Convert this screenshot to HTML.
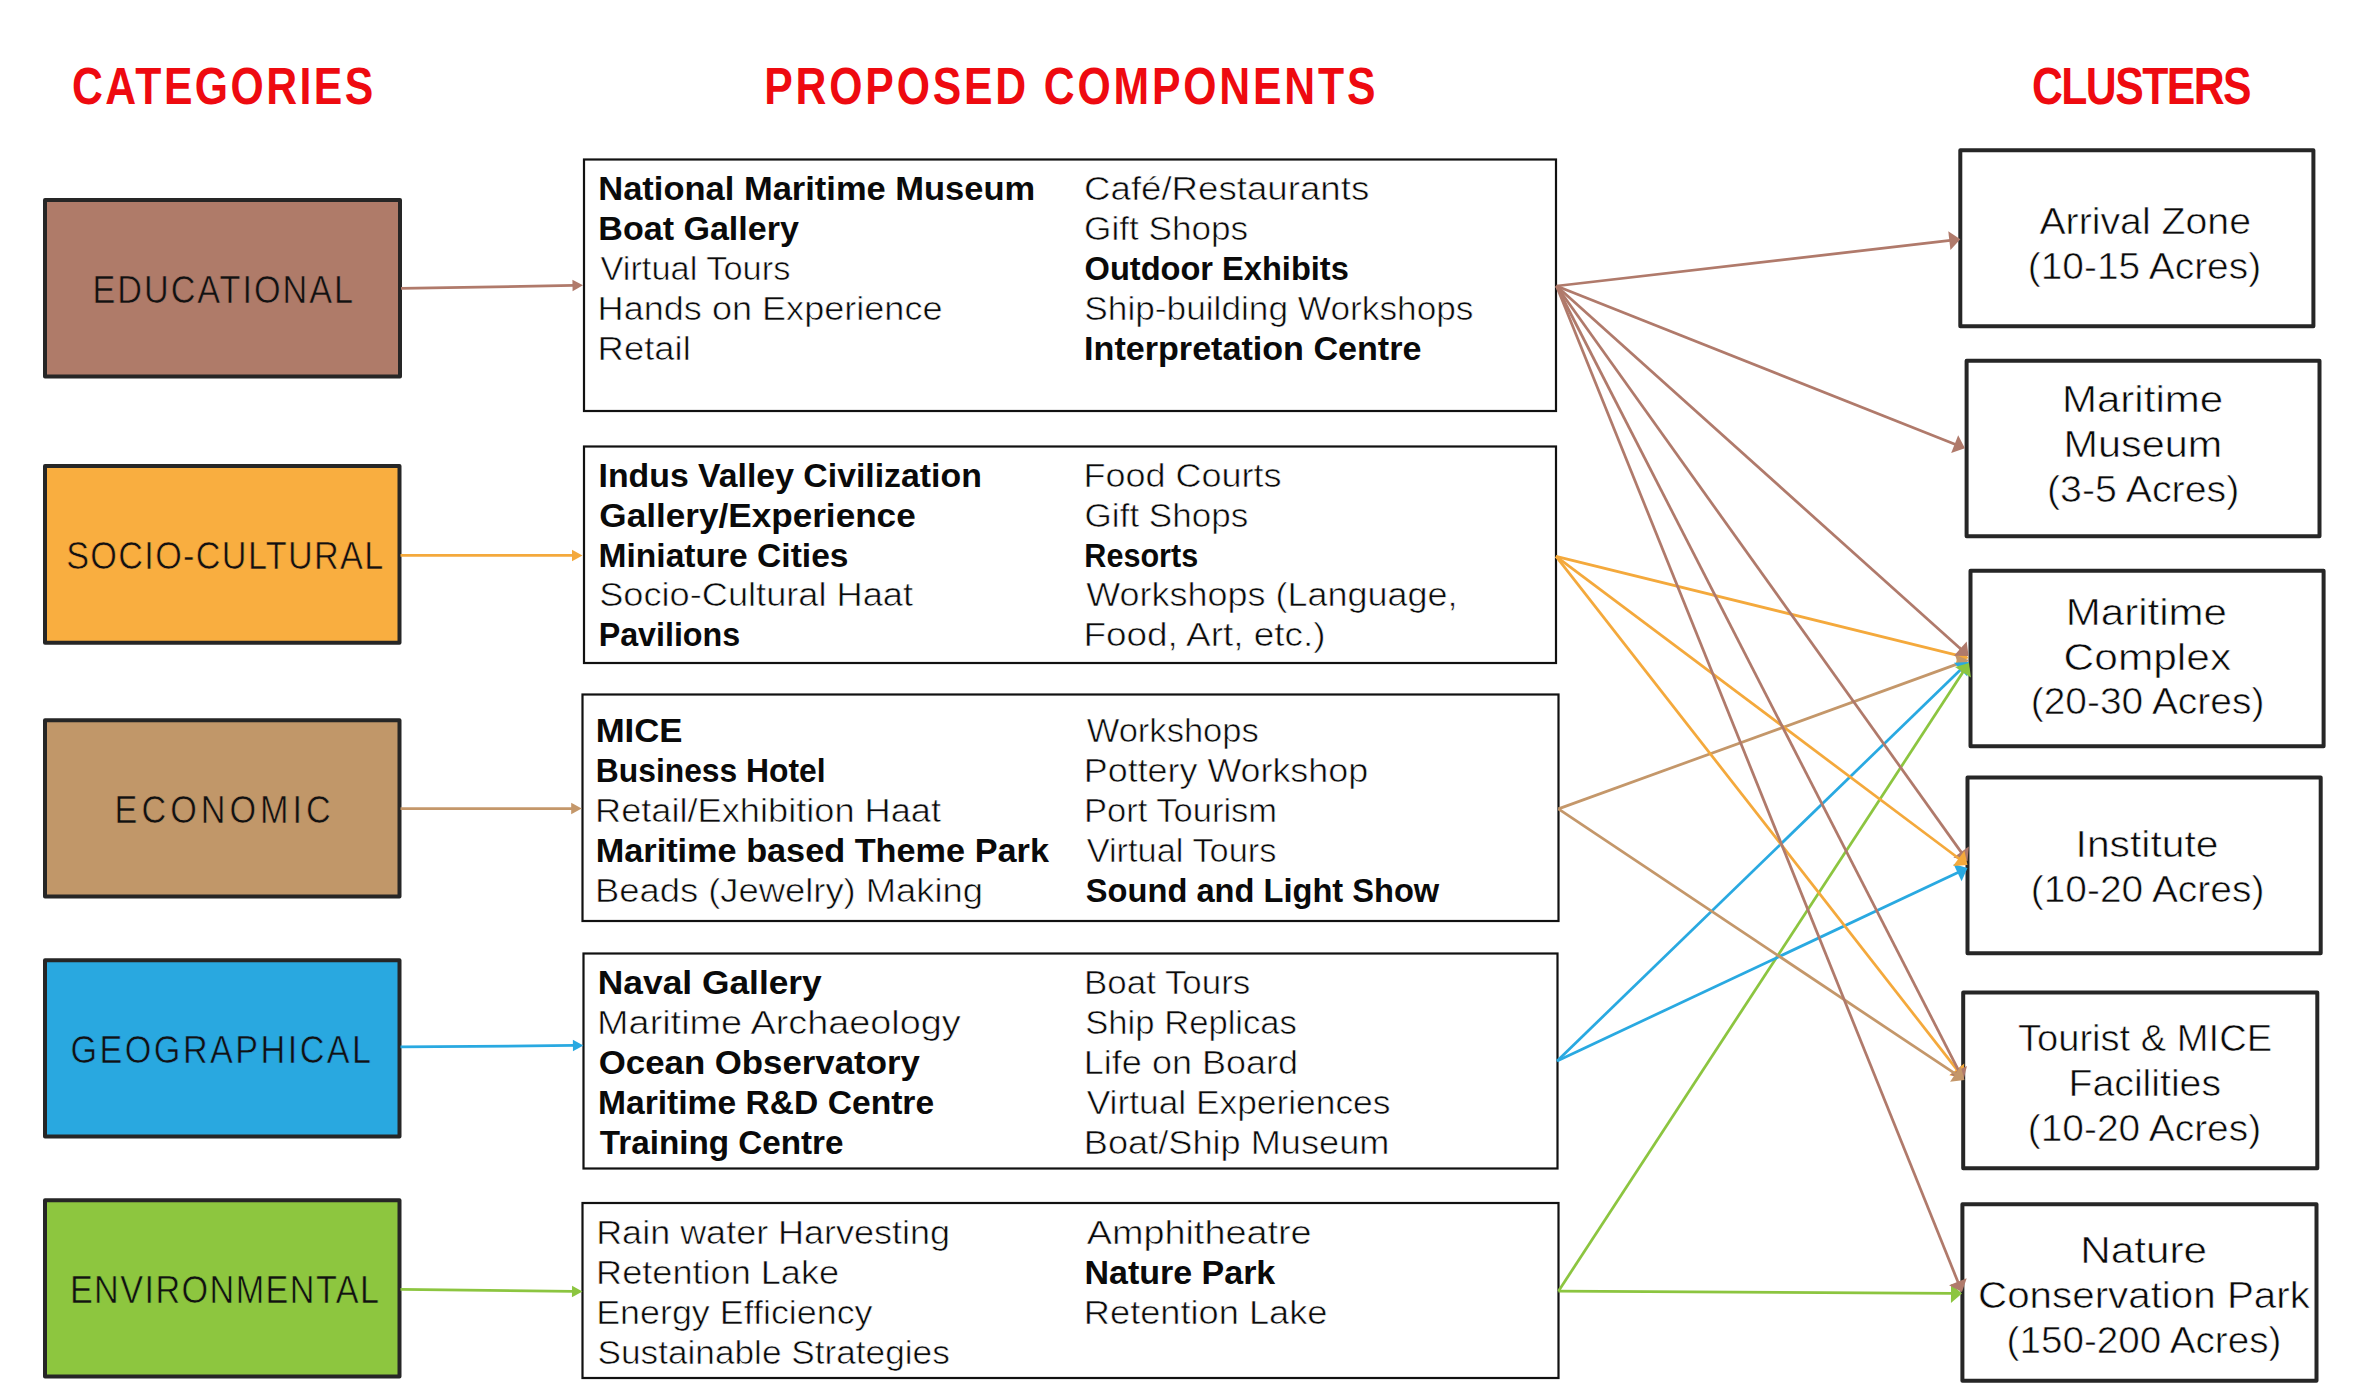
<!DOCTYPE html>
<html><head><meta charset="utf-8"><title>Categories, Proposed Components, Clusters</title>
<style>
html,body{margin:0;padding:0;background:#ffffff;}
body{width:2357px;height:1391px;overflow:hidden;}
svg{display:block;font-family:"Liberation Sans", sans-serif;}
</style></head><body>
<svg width="2357" height="1391" viewBox="0 0 2357 1391">
<rect x="0" y="0" width="2357" height="1391" fill="#ffffff"/>
<text transform="scale(0.8300,1)" x="86.68" y="103.70" font-size="51.50" font-weight="bold" fill="#EE0A10" textLength="363.04" lengthAdjust="spacing">CATEGORIES</text>
<text transform="scale(0.8300,1)" x="920.77" y="103.80" font-size="51.50" font-weight="bold" fill="#EE0A10" textLength="736.42" lengthAdjust="spacing">PROPOSED COMPONENTS</text>
<text transform="scale(0.8300,1)" x="2448.13" y="104.00" font-size="51.50" font-weight="bold" fill="#EE0A10" textLength="264.61" lengthAdjust="spacing">CLUSTERS</text>
<rect x="45.00" y="200.00" width="355.00" height="176.50" fill="#AF7B69" stroke="#262626" stroke-width="4" stroke-linejoin="round"/>
<text transform="scale(0.9000,1)" x="102.88" y="302.90" font-size="38.00" fill="#111111" stroke="#AF7B69" stroke-width="0.60" textLength="289.27" lengthAdjust="spacing">EDUCATIONAL</text>
<rect x="45.00" y="466.00" width="354.50" height="176.70" fill="#F9AE40" stroke="#262626" stroke-width="4" stroke-linejoin="round"/>
<text transform="scale(0.9000,1)" x="73.50" y="568.70" font-size="38.00" fill="#111111" stroke="#F9AE40" stroke-width="0.60" textLength="352.32" lengthAdjust="spacing">SOCIO-CULTURAL</text>
<rect x="45.00" y="720.20" width="354.50" height="176.30" fill="#C19769" stroke="#262626" stroke-width="4" stroke-linejoin="round"/>
<text transform="scale(0.9000,1)" x="127.33" y="822.90" font-size="38.00" fill="#111111" stroke="#C19769" stroke-width="0.60" textLength="240.23" lengthAdjust="spacing">ECONOMIC</text>
<rect x="45.00" y="960.20" width="354.50" height="176.30" fill="#29A8E0" stroke="#262626" stroke-width="4" stroke-linejoin="round"/>
<text transform="scale(0.9000,1)" x="78.31" y="1062.90" font-size="38.00" fill="#111111" stroke="#29A8E0" stroke-width="0.60" textLength="334.06" lengthAdjust="spacing">GEOGRAPHICAL</text>
<rect x="45.00" y="1200.20" width="354.50" height="176.30" fill="#8DC63F" stroke="#262626" stroke-width="4" stroke-linejoin="round"/>
<text transform="scale(0.9000,1)" x="77.66" y="1302.90" font-size="38.00" fill="#111111" stroke="#8DC63F" stroke-width="0.60" textLength="343.38" lengthAdjust="spacing">ENVIRONMENTAL</text>
<rect x="584.00" y="159.50" width="972.00" height="251.50" fill="#ffffff" stroke="#111111" stroke-width="2.2"/>
<rect x="584.00" y="446.50" width="972.00" height="216.50" fill="#ffffff" stroke="#111111" stroke-width="2.2"/>
<rect x="582.50" y="694.50" width="976.00" height="226.50" fill="#ffffff" stroke="#111111" stroke-width="2.2"/>
<rect x="583.50" y="953.50" width="974.00" height="215.00" fill="#ffffff" stroke="#111111" stroke-width="2.2"/>
<rect x="582.50" y="1203.00" width="976.00" height="175.00" fill="#ffffff" stroke="#111111" stroke-width="2.2"/>
<text x="598.29" y="200.00" font-size="33.50" font-weight="bold" fill="#0a0a0a" textLength="436.95" lengthAdjust="spacingAndGlyphs">National Maritime Museum</text>
<text x="598.32" y="240.00" font-size="33.50" font-weight="bold" fill="#0a0a0a" textLength="200.56" lengthAdjust="spacingAndGlyphs">Boat Gallery</text>
<text x="600.45" y="280.00" font-size="33.50" fill="#0a0a0a" stroke="#ffffff" stroke-width="0.60" textLength="189.96" lengthAdjust="spacingAndGlyphs">Virtual Tours</text>
<text x="597.64" y="319.70" font-size="33.50" fill="#0a0a0a" stroke="#ffffff" stroke-width="0.60" textLength="344.86" lengthAdjust="spacingAndGlyphs">Hands on Experience</text>
<text x="597.61" y="359.60" font-size="33.50" fill="#0a0a0a" stroke="#ffffff" stroke-width="0.60" textLength="93.12" lengthAdjust="spacingAndGlyphs">Retail</text>
<text x="1084.04" y="200.00" font-size="33.50" fill="#0a0a0a" stroke="#ffffff" stroke-width="0.60" textLength="285.19" lengthAdjust="spacingAndGlyphs">Café/Restaurants</text>
<text x="1084.13" y="240.00" font-size="33.50" fill="#0a0a0a" stroke="#ffffff" stroke-width="0.60" textLength="164.04" lengthAdjust="spacingAndGlyphs">Gift Shops</text>
<text x="1084.56" y="280.00" font-size="33.50" font-weight="bold" fill="#0a0a0a" textLength="264.27" lengthAdjust="spacingAndGlyphs">Outdoor Exhibits</text>
<text x="1084.30" y="319.70" font-size="33.50" fill="#0a0a0a" stroke="#ffffff" stroke-width="0.60" textLength="389.17" lengthAdjust="spacingAndGlyphs">Ship-building Workshops</text>
<text x="1084.12" y="359.60" font-size="33.50" font-weight="bold" fill="#0a0a0a" textLength="337.35" lengthAdjust="spacingAndGlyphs">Interpretation Centre</text>
<text x="598.55" y="486.70" font-size="33.50" font-weight="bold" fill="#0a0a0a" textLength="383.24" lengthAdjust="spacingAndGlyphs">Indus Valley Civilization</text>
<text x="599.36" y="526.60" font-size="33.50" font-weight="bold" fill="#0a0a0a" textLength="316.34" lengthAdjust="spacingAndGlyphs">Gallery/Experience</text>
<text x="598.55" y="566.60" font-size="33.50" font-weight="bold" fill="#0a0a0a" textLength="249.92" lengthAdjust="spacingAndGlyphs">Miniature Cities</text>
<text x="599.16" y="606.30" font-size="33.50" fill="#0a0a0a" stroke="#ffffff" stroke-width="0.60" textLength="313.91" lengthAdjust="spacingAndGlyphs">Socio-Cultural Haat</text>
<text x="598.64" y="646.30" font-size="33.50" font-weight="bold" fill="#0a0a0a" textLength="141.58" lengthAdjust="spacingAndGlyphs">Pavilions</text>
<text x="1083.45" y="486.70" font-size="33.50" fill="#0a0a0a" stroke="#ffffff" stroke-width="0.60" textLength="198.16" lengthAdjust="spacingAndGlyphs">Food Courts</text>
<text x="1084.64" y="526.60" font-size="33.50" fill="#0a0a0a" stroke="#ffffff" stroke-width="0.60" textLength="163.53" lengthAdjust="spacingAndGlyphs">Gift Shops</text>
<text x="1084.36" y="566.60" font-size="33.50" font-weight="bold" fill="#0a0a0a" textLength="113.80" lengthAdjust="spacingAndGlyphs">Resorts</text>
<text x="1086.24" y="606.30" font-size="33.50" fill="#0a0a0a" stroke="#ffffff" stroke-width="0.60" textLength="371.18" lengthAdjust="spacingAndGlyphs">Workshops (Language,</text>
<text x="1083.40" y="646.30" font-size="33.50" fill="#0a0a0a" stroke="#ffffff" stroke-width="0.60" textLength="242.17" lengthAdjust="spacingAndGlyphs">Food, Art, etc.)</text>
<text x="595.68" y="742.00" font-size="33.50" font-weight="bold" fill="#0a0a0a" textLength="86.88" lengthAdjust="spacingAndGlyphs">MICE</text>
<text x="595.87" y="782.20" font-size="33.50" font-weight="bold" fill="#0a0a0a" textLength="229.68" lengthAdjust="spacingAndGlyphs">Business Hotel</text>
<text x="595.03" y="822.00" font-size="33.50" fill="#0a0a0a" stroke="#ffffff" stroke-width="0.60" textLength="346.03" lengthAdjust="spacingAndGlyphs">Retail/Exhibition Haat</text>
<text x="595.71" y="861.60" font-size="33.50" font-weight="bold" fill="#0a0a0a" textLength="453.26" lengthAdjust="spacingAndGlyphs">Maritime based Theme Park</text>
<text x="595.02" y="901.70" font-size="33.50" fill="#0a0a0a" stroke="#ffffff" stroke-width="0.60" textLength="388.03" lengthAdjust="spacingAndGlyphs">Beads (Jewelry) Making</text>
<text x="1086.65" y="742.00" font-size="33.50" fill="#0a0a0a" stroke="#ffffff" stroke-width="0.60" textLength="172.20" lengthAdjust="spacingAndGlyphs">Workshops</text>
<text x="1083.87" y="782.20" font-size="33.50" fill="#0a0a0a" stroke="#ffffff" stroke-width="0.60" textLength="284.24" lengthAdjust="spacingAndGlyphs">Pottery Workshop</text>
<text x="1084.03" y="822.00" font-size="33.50" fill="#0a0a0a" stroke="#ffffff" stroke-width="0.60" textLength="193.09" lengthAdjust="spacingAndGlyphs">Port Tourism</text>
<text x="1086.65" y="861.60" font-size="33.50" fill="#0a0a0a" stroke="#ffffff" stroke-width="0.60" textLength="189.86" lengthAdjust="spacingAndGlyphs">Virtual Tours</text>
<text x="1085.86" y="901.70" font-size="33.50" font-weight="bold" fill="#0a0a0a" textLength="353.38" lengthAdjust="spacingAndGlyphs">Sound and Light Show</text>
<text x="597.84" y="994.00" font-size="33.50" font-weight="bold" fill="#0a0a0a" textLength="223.95" lengthAdjust="spacingAndGlyphs">Naval Gallery</text>
<text x="597.12" y="1033.80" font-size="33.50" fill="#0a0a0a" stroke="#ffffff" stroke-width="0.60" textLength="363.56" lengthAdjust="spacingAndGlyphs">Maritime Archaeology</text>
<text x="598.77" y="1073.50" font-size="33.50" font-weight="bold" fill="#0a0a0a" textLength="321.01" lengthAdjust="spacingAndGlyphs">Ocean Observatory</text>
<text x="597.95" y="1113.60" font-size="33.50" font-weight="bold" fill="#0a0a0a" textLength="336.20" lengthAdjust="spacingAndGlyphs">Maritime R&amp;D Centre</text>
<text x="599.83" y="1153.50" font-size="33.50" font-weight="bold" fill="#0a0a0a" textLength="243.70" lengthAdjust="spacingAndGlyphs">Training Centre</text>
<text x="1084.01" y="994.00" font-size="33.50" fill="#0a0a0a" stroke="#ffffff" stroke-width="0.60" textLength="166.32" lengthAdjust="spacingAndGlyphs">Boat Tours</text>
<text x="1085.23" y="1033.80" font-size="33.50" fill="#0a0a0a" stroke="#ffffff" stroke-width="0.60" textLength="211.72" lengthAdjust="spacingAndGlyphs">Ship Replicas</text>
<text x="1083.85" y="1073.50" font-size="33.50" fill="#0a0a0a" stroke="#ffffff" stroke-width="0.60" textLength="214.17" lengthAdjust="spacingAndGlyphs">Life on Board</text>
<text x="1086.65" y="1113.60" font-size="33.50" fill="#0a0a0a" stroke="#ffffff" stroke-width="0.60" textLength="303.73" lengthAdjust="spacingAndGlyphs">Virtual Experiences</text>
<text x="1083.83" y="1153.50" font-size="33.50" fill="#0a0a0a" stroke="#ffffff" stroke-width="0.60" textLength="305.55" lengthAdjust="spacingAndGlyphs">Boat/Ship Museum</text>
<text x="596.15" y="1244.00" font-size="33.50" fill="#0a0a0a" stroke="#ffffff" stroke-width="0.60" textLength="353.97" lengthAdjust="spacingAndGlyphs">Rain water Harvesting</text>
<text x="596.14" y="1283.50" font-size="33.50" fill="#0a0a0a" stroke="#ffffff" stroke-width="0.60" textLength="242.97" lengthAdjust="spacingAndGlyphs">Retention Lake</text>
<text x="596.17" y="1323.60" font-size="33.50" fill="#0a0a0a" stroke="#ffffff" stroke-width="0.60" textLength="276.40" lengthAdjust="spacingAndGlyphs">Energy Efficiency</text>
<text x="597.50" y="1363.50" font-size="33.50" fill="#0a0a0a" stroke="#ffffff" stroke-width="0.60" textLength="352.27" lengthAdjust="spacingAndGlyphs">Sustainable Strategies</text>
<text x="1086.73" y="1244.00" font-size="33.50" fill="#0a0a0a" stroke="#ffffff" stroke-width="0.60" textLength="224.85" lengthAdjust="spacingAndGlyphs">Amphitheatre</text>
<text x="1084.53" y="1283.50" font-size="33.50" font-weight="bold" fill="#0a0a0a" textLength="190.74" lengthAdjust="spacingAndGlyphs">Nature Park</text>
<text x="1083.83" y="1323.60" font-size="33.50" fill="#0a0a0a" stroke="#ffffff" stroke-width="0.60" textLength="243.68" lengthAdjust="spacingAndGlyphs">Retention Lake</text>
<rect x="1960.30" y="150.30" width="353.10" height="175.90" fill="#ffffff" stroke="#262626" stroke-width="4" stroke-linejoin="round"/>
<text x="2039.42" y="233.90" font-size="37.00" fill="#0a0a0a" stroke="#ffffff" stroke-width="0.60" textLength="211.62" lengthAdjust="spacingAndGlyphs">Arrival Zone</text>
<text x="2027.81" y="279.00" font-size="37.00" fill="#0a0a0a" stroke="#ffffff" stroke-width="0.60" textLength="233.28" lengthAdjust="spacingAndGlyphs">(10-15 Acres)</text>
<rect x="1966.60" y="360.70" width="352.90" height="175.50" fill="#ffffff" stroke="#262626" stroke-width="4" stroke-linejoin="round"/>
<text x="2061.95" y="412.10" font-size="37.00" fill="#0a0a0a" stroke="#ffffff" stroke-width="0.60" textLength="161.22" lengthAdjust="spacingAndGlyphs">Maritime</text>
<text x="2063.60" y="456.80" font-size="37.00" fill="#0a0a0a" stroke="#ffffff" stroke-width="0.60" textLength="158.72" lengthAdjust="spacingAndGlyphs">Museum</text>
<text x="2046.99" y="501.60" font-size="37.00" fill="#0a0a0a" stroke="#ffffff" stroke-width="0.60" textLength="192.32" lengthAdjust="spacingAndGlyphs">(3-5 Acres)</text>
<rect x="1970.50" y="570.70" width="353.10" height="175.50" fill="#ffffff" stroke="#262626" stroke-width="4" stroke-linejoin="round"/>
<text x="2065.75" y="624.70" font-size="37.00" fill="#0a0a0a" stroke="#ffffff" stroke-width="0.60" textLength="161.22" lengthAdjust="spacingAndGlyphs">Maritime</text>
<text x="2063.64" y="669.60" font-size="37.00" fill="#0a0a0a" stroke="#ffffff" stroke-width="0.60" textLength="167.51" lengthAdjust="spacingAndGlyphs">Complex</text>
<text x="2030.71" y="714.30" font-size="37.00" fill="#0a0a0a" stroke="#ffffff" stroke-width="0.60" textLength="233.68" lengthAdjust="spacingAndGlyphs">(20-30 Acres)</text>
<rect x="1967.50" y="777.60" width="353.20" height="175.60" fill="#ffffff" stroke="#262626" stroke-width="4" stroke-linejoin="round"/>
<text x="2075.64" y="857.00" font-size="37.00" fill="#0a0a0a" stroke="#ffffff" stroke-width="0.60" textLength="142.77" lengthAdjust="spacingAndGlyphs">Institute</text>
<text x="2030.71" y="901.70" font-size="37.00" fill="#0a0a0a" stroke="#ffffff" stroke-width="0.60" textLength="233.68" lengthAdjust="spacingAndGlyphs">(10-20 Acres)</text>
<rect x="1963.20" y="992.60" width="354.10" height="175.60" fill="#ffffff" stroke="#262626" stroke-width="4" stroke-linejoin="round"/>
<text x="2017.96" y="1051.00" font-size="37.00" fill="#0a0a0a" stroke="#ffffff" stroke-width="0.60" textLength="254.15" lengthAdjust="spacingAndGlyphs">Tourist &amp; MICE</text>
<text x="2068.59" y="1095.80" font-size="37.00" fill="#0a0a0a" stroke="#ffffff" stroke-width="0.60" textLength="152.43" lengthAdjust="spacingAndGlyphs">Facilities</text>
<text x="2027.81" y="1140.50" font-size="37.00" fill="#0a0a0a" stroke="#ffffff" stroke-width="0.60" textLength="233.28" lengthAdjust="spacingAndGlyphs">(10-20 Acres)</text>
<rect x="1962.40" y="1204.30" width="354.10" height="176.40" fill="#ffffff" stroke="#262626" stroke-width="4" stroke-linejoin="round"/>
<text x="2080.23" y="1263.10" font-size="37.00" fill="#0a0a0a" stroke="#ffffff" stroke-width="0.60" textLength="126.84" lengthAdjust="spacingAndGlyphs">Nature</text>
<text x="1978.05" y="1307.50" font-size="37.00" fill="#0a0a0a" stroke="#ffffff" stroke-width="0.60" textLength="331.79" lengthAdjust="spacingAndGlyphs">Conservation Park</text>
<text x="2006.62" y="1352.70" font-size="37.00" fill="#0a0a0a" stroke="#ffffff" stroke-width="0.60" textLength="274.75" lengthAdjust="spacingAndGlyphs">(150-200 Acres)</text>
<line x1="401.00" y1="288.40" x2="573.50" y2="285.46" stroke="#B07A6B" stroke-width="2.75"/><polygon points="583.00,285.30 572.60,291.23 572.40,279.73" fill="#B07A6B"/>
<line x1="400.50" y1="555.40" x2="573.00" y2="555.40" stroke="#F4A93C" stroke-width="2.75"/><polygon points="582.50,555.40 572.00,561.15 572.00,549.65" fill="#F4A93C"/>
<line x1="400.50" y1="808.50" x2="572.20" y2="808.50" stroke="#C4976A" stroke-width="2.75"/><polygon points="581.70,808.50 571.20,814.25 571.20,802.75" fill="#C4976A"/>
<line x1="400.50" y1="1046.90" x2="573.90" y2="1045.48" stroke="#29A9E1" stroke-width="2.75"/><polygon points="583.40,1045.40 572.95,1051.24 572.85,1039.74" fill="#29A9E1"/>
<line x1="400.50" y1="1289.30" x2="573.00" y2="1291.48" stroke="#8CC540" stroke-width="2.75"/><polygon points="582.50,1291.60 571.93,1297.22 572.07,1285.72" fill="#8CC540"/>
<line x1="1556.50" y1="286.00" x2="1950.37" y2="240.45" stroke="#B07A6B" stroke-width="2.75"/><polygon points="1960.30,239.30 1950.46,250.00 1948.28,231.13" fill="#B07A6B"/>
<line x1="1556.50" y1="286.00" x2="1955.61" y2="444.51" stroke="#B07A6B" stroke-width="2.75"/><polygon points="1964.90,448.20 1951.17,452.97 1958.18,435.31" fill="#B07A6B"/>
<line x1="1556.00" y1="556.30" x2="1958.79" y2="655.61" stroke="#F4A93C" stroke-width="2.75"/><polygon points="1968.50,658.00 1955.55,664.59 1960.09,646.14" fill="#F4A93C"/>
<line x1="1558.40" y1="808.90" x2="1959.10" y2="663.41" stroke="#C4976A" stroke-width="2.75"/><polygon points="1968.50,660.00 1961.40,672.68 1954.92,654.82" fill="#C4976A"/>
<line x1="1557.10" y1="1061.00" x2="1961.32" y2="668.96" stroke="#29A9E1" stroke-width="2.75"/><polygon points="1968.50,662.00 1967.22,676.48 1953.99,662.84" fill="#29A9E1"/>
<line x1="1556.50" y1="286.00" x2="1961.06" y2="649.32" stroke="#B07A6B" stroke-width="2.75"/><polygon points="1968.50,656.00 1953.97,655.72 1966.66,641.58" fill="#B07A6B"/>
<line x1="1558.40" y1="1291.20" x2="1963.53" y2="671.37" stroke="#8CC540" stroke-width="2.75"/><polygon points="1969.00,663.00 1970.93,677.41 1955.03,667.01" fill="#8CC540"/>
<line x1="1556.50" y1="286.00" x2="1961.68" y2="852.86" stroke="#B07A6B" stroke-width="2.75"/><polygon points="1967.50,861.00 1953.37,857.58 1968.83,846.53" fill="#B07A6B"/>
<line x1="1557.10" y1="1061.00" x2="1958.45" y2="872.26" stroke="#29A9E1" stroke-width="2.75"/><polygon points="1967.50,868.00 1961.59,881.28 1953.50,864.08" fill="#29A9E1"/>
<line x1="1556.00" y1="556.30" x2="1959.50" y2="859.00" stroke="#F4A93C" stroke-width="2.75"/><polygon points="1967.50,865.00 1953.00,866.00 1964.40,850.80" fill="#F4A93C"/>
<line x1="1556.00" y1="556.30" x2="1957.34" y2="1070.12" stroke="#F4A93C" stroke-width="2.75"/><polygon points="1963.50,1078.00 1949.24,1075.18 1964.22,1063.48" fill="#F4A93C"/>
<line x1="1556.50" y1="286.00" x2="1958.94" y2="1071.10" stroke="#B07A6B" stroke-width="2.75"/><polygon points="1963.50,1080.00 1950.03,1074.54 1966.94,1065.88" fill="#B07A6B"/>
<line x1="1558.40" y1="808.90" x2="1956.18" y2="1074.45" stroke="#C4976A" stroke-width="2.75"/><polygon points="1964.50,1080.00 1950.08,1081.79 1960.63,1065.99" fill="#C4976A"/>
<line x1="1558.40" y1="1291.20" x2="1952.00" y2="1293.44" stroke="#8CC540" stroke-width="2.75"/><polygon points="1962.00,1293.50 1950.95,1302.94 1951.05,1283.94" fill="#8CC540"/>
<line x1="1556.50" y1="286.00" x2="1958.26" y2="1282.73" stroke="#B07A6B" stroke-width="2.75"/><polygon points="1962.00,1292.00 1949.08,1285.35 1966.70,1278.25" fill="#B07A6B"/>
</svg>
</body></html>
